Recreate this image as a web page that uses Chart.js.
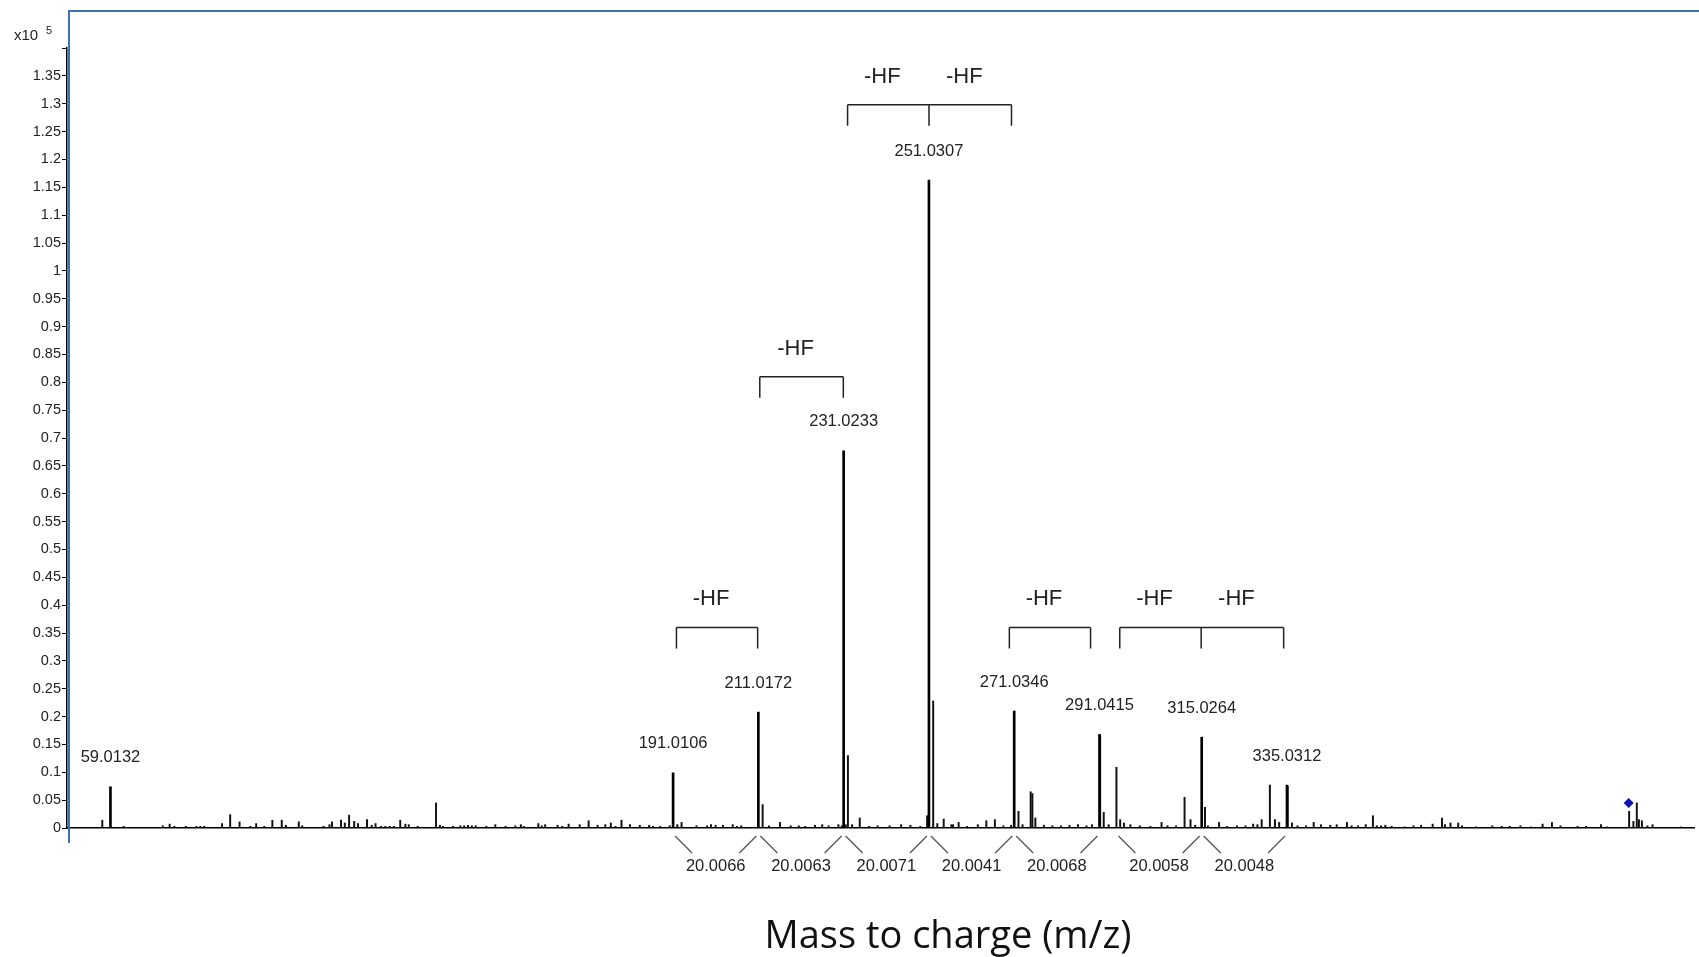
<!DOCTYPE html>
<html>
<head>
<meta charset="utf-8">
<title>Mass spectrum</title>
<script src="https://cdn.jsdelivr.net/npm/chart.js@4.4.1/dist/chart.umd.min.js"></script>
<style>
  html, body { margin: 0; padding: 0; background: #fff; }
  #wrap { width: 1699px; height: 957px; }
</style>
</head>
<body>
<div id="wrap"><canvas id="spectrum" width="1699" height="957"></canvas></div>
<script>
// Labelled peaks (m/z, intensity in units of 1e5 counts)
const peakLabels = ["59.0132", "191.0106", "211.0172", "231.0233", "251.0307", "271.0346", "291.0415", "315.0264", "335.0312"];
const peakMz = [59.0132, 191.0106, 211.0172, 231.0233, 251.0307, 271.0346, 291.0415, 315.0264, 335.0312];
const peakIntensity = [0.074, 0.099, 0.208, 0.677, 1.163, 0.210, 0.168, 0.163, 0.077];

// Unlabelled peaks
const minorMz = [
  57.1, 62.1, 71.3, 72.9, 74.0, 76.7, 79.2, 80.1, 81.0, 85.2, 87.1, 89.3, 91.8, 93.2, 95.1, 97.0, 99.2, 100.2,
  103.2, 104.0, 109.0, 110.4, 111.0, 113.1, 114.0, 115.0, 116.2, 117.1, 119.2, 120.3, 121.2, 122.5, 123.5, 124.5,
  125.5, 127.0, 128.2, 129.0, 131.1, 135.4, 136.3, 137.0, 139.4, 141.1, 142.0, 142.9, 143.8, 144.7, 147.2, 149.3,
  151.7, 154.0, 155.3, 156.0, 159.4, 160.2, 161.0, 163.9, 165.0, 166.5, 169.1, 171.2, 173.3, 175.1, 176.4, 177.5,
  178.9, 180.9, 183.2, 185.4, 186.3, 188.0, 190.2, 192.0, 193.0, 196.5, 199.0, 199.9, 201.0, 202.7, 205.0, 206.0,
  207.0, 212.02, 213.5, 216.1, 218.6, 220.5, 222.0, 224.3, 226.0, 227.5, 229.8, 230.6, 231.5, 232.03, 233.0, 234.8,
  237.0, 239.0, 241.8, 244.5, 246.7, 249.0, 250.6, 252.03, 253.0, 254.5, 256.3, 256.7, 258.0, 260.0, 262.5, 264.5,
  266.5, 268.5, 270.3, 272.04, 273.0, 274.9, 275.3, 276.0, 278.0, 280.0, 282.0, 284.0, 286.0, 288.0, 289.3, 291.2,
  292.04, 293.2, 295.02, 295.9, 296.8, 298.3, 300.5, 303.0, 305.6, 307.0, 309.0, 311.0, 312.4, 313.5, 315.8, 316.5,
  319.1, 321.0, 323.3, 325.3, 327.1, 328.1, 329.1, 331.02, 332.2, 333.2, 335.2, 336.2, 337.5, 339.5, 341.3, 343.0,
  345.2, 346.7, 349.1, 350.2, 351.7, 353.5, 355.2, 356.1, 357.1, 358.1, 359.6, 362.6, 364.7, 366.5, 369.2, 371.4,
  372.1, 373.4, 375.2, 376.1, 379.4, 383.2, 385.4, 387.3, 389.8, 392.3, 395.0, 397.2, 399.2, 403.2, 405.2, 408.7,
  410.1, 415.3, 416.3, 417.1, 417.6, 418.3, 419.6, 420.8, 427.4
];
const minorIntensity = [
  0.014, 0.003, 0.004, 0.007, 0.003, 0.003, 0.003, 0.003, 0.003, 0.008, 0.024, 0.011, 0.003, 0.008, 0.003, 0.014, 0.014, 0.005,
  0.011, 0.004, 0.003, 0.006, 0.011, 0.014, 0.009, 0.023, 0.012, 0.008, 0.015, 0.005, 0.008, 0.003, 0.003, 0.003,
  0.003, 0.014, 0.007, 0.006, 0.003, 0.045, 0.005, 0.003, 0.003, 0.004, 0.004, 0.005, 0.004, 0.004, 0.003, 0.006,
  0.003, 0.004, 0.006, 0.003, 0.008, 0.004, 0.006, 0.005, 0.003, 0.007, 0.006, 0.013, 0.005, 0.006, 0.009, 0.003,
  0.014, 0.006, 0.005, 0.005, 0.003, 0.003, 0.004, 0.006, 0.010, 0.004, 0.004, 0.006, 0.005, 0.005, 0.006, 0.003,
  0.004, 0.042, 0.004, 0.010, 0.004, 0.004, 0.003, 0.005, 0.006, 0.004, 0.006, 0.004, 0.006, 0.130, 0.006, 0.018,
  0.003, 0.004, 0.004, 0.006, 0.005, 0.003, 0.022, 0.228, 0.008, 0.016, 0.006, 0.006, 0.010, 0.003, 0.006, 0.013,
  0.015, 0.004, 0.005, 0.030, 0.006, 0.065, 0.062, 0.018, 0.005, 0.004, 0.004, 0.005, 0.006, 0.004, 0.006, 0.166,
  0.028, 0.006, 0.109, 0.015, 0.009, 0.006, 0.004, 0.003, 0.010, 0.004, 0.004, 0.055, 0.015, 0.005, 0.037, 0.004,
  0.010, 0.003, 0.004, 0.004, 0.007, 0.006, 0.015, 0.077, 0.015, 0.010, 0.075, 0.009, 0.004, 0.004, 0.010, 0.006,
  0.005, 0.006, 0.010, 0.004, 0.004, 0.006, 0.022, 0.004, 0.004, 0.005, 0.003, 0.002, 0.004, 0.005, 0.007, 0.018,
  0.006, 0.009, 0.009, 0.004, 0.002, 0.004, 0.003, 0.003, 0.004, 0.002, 0.007, 0.010, 0.004, 0.003, 0.003, 0.006,
  0.002, 0.030, 0.012, 0.045, 0.015, 0.013, 0.004, 0.006, 0.002
];

// Precursor marker (blue diamond)
const precursorMz = [415.2];
const precursorIntensity = [0.045];

// -HF losses: m/z where the bracket legs stand, and bracket height (x10^5)
const hfSpans = [
  [191.8, 210.85],
  [211.35, 230.95],
  [231.95, 251.05, 270.4],
  [269.9, 288.95],
  [295.8, 314.9, 334.25]
];
const hfLevels = [0.36, 0.81, 1.298, 0.36, 0.36];

// Mass differences written under the axis
const diffLabels = ["20.0066", "20.0063", "20.0071", "20.0041", "20.0068", "20.0058", "20.0048"];
const diffFrom = [191.0106, 211.0172, 231.0233, 251.0307, 271.0346, 295.0206, 315.0264];
const diffTo = [211.0172, 231.0233, 251.0307, 271.0346, 291.0415, 315.0264, 335.0312];

// Axis ranges
const xMin = 48.82, xMax = 430.52;
const yMax = 1.4, yStep = 0.05;

const SANS = "'Liberation Sans', Arial, sans-serif";

function toPoints(xs, ys) {
    return xs.map((m, i) => ({ x: m, y: ys[i] }));
}

// Draw the text and brackets that sit on top of the spectrum
const annotations = {
    id: "annotations",
    afterDraw(chart) {
        const { ctx, chartArea, scales: { x, y } } = chart;
        ctx.save();

        // blue frame of the plot window
        ctx.strokeStyle = "#3f6fb8";
        ctx.lineWidth = 2;
        ctx.beginPath();
        ctx.moveTo(chartArea.left + 2, chartArea.bottom + 15);
        ctx.lineTo(chartArea.left + 2, 11);
        ctx.lineTo(chart.width, 11);
        ctx.stroke();

        // x10^5 exponent
        ctx.fillStyle = "#222";
        ctx.textAlign = "left";
        ctx.textBaseline = "alphabetic";
        ctx.font = "15px " + SANS;
        ctx.fillText("x10", 14, 40);
        ctx.font = "11px " + SANS;
        ctx.fillText("5", 46, 34);

        // peak labels
        ctx.font = "16.5px " + SANS;
        ctx.textAlign = "center";
        ctx.textBaseline = "middle";
        peakLabels.forEach((label, i) => {
            const px = x.getPixelForValue(peakMz[i]);
            const py = y.getPixelForValue(peakIntensity[i]);
            ctx.fillText(label, px, py - 29);
        });

        // -HF brackets
        ctx.strokeStyle = "#222";
        ctx.lineWidth = 1.5;
        ctx.font = "22px " + SANS;
        hfSpans.forEach((span, i) => {
            const ly = y.getPixelForValue(hfLevels[i]);
            const xs = span.map(m => x.getPixelForValue(m));
            ctx.beginPath();
            ctx.moveTo(xs[0], ly);
            ctx.lineTo(xs[xs.length - 1], ly);
            xs.forEach(px => {
                ctx.moveTo(px, ly);
                ctx.lineTo(px, ly + 21);
            });
            ctx.stroke();
            for (let k = 0; k < xs.length - 1; k++) {
                ctx.fillText("-HF", (xs[k] + xs[k + 1]) / 2 - 6, ly - 28);
            }
        });

        // mass differences under the axis
        const base = chartArea.bottom;
        ctx.strokeStyle = "#555";
        ctx.lineWidth = 1.3;
        ctx.font = "16.5px " + SANS;
        diffLabels.forEach((label, i) => {
            const xa = x.getPixelForValue(diffFrom[i]);
            const xb = x.getPixelForValue(diffTo[i]);
            ctx.beginPath();
            ctx.moveTo(xa + 2, base + 8);
            ctx.lineTo(xa + 19, base + 25);
            ctx.moveTo(xb - 2, base + 8);
            ctx.lineTo(xb - 19, base + 25);
            ctx.stroke();
            ctx.fillText(label, (xa + xb) / 2, base + 38);
        });

        // axis title
        ctx.fillStyle = "#111";
        ctx.font = "38px 'Open Sans', 'Noto Sans', sans-serif";
        ctx.textBaseline = "alphabetic";
        ctx.fillText("Mass to charge (m/z)", 948, 948);

        ctx.restore();
    }
};

const ctx = document.getElementById("spectrum").getContext("2d");

new Chart(ctx, {
    type: "bar",
    data: {
        datasets: [
            {
                label: "Precursor",
                type: "line",
                data: toPoints(precursorMz, precursorIntensity),
                showLine: false,
                pointStyle: "rectRot",
                pointRadius: 5,
                backgroundColor: "#1010b8",
                borderColor: "#1010b8",
                borderWidth: 0
            },
            {
                label: "Labelled peaks",
                data: toPoints(peakMz, peakIntensity),
                backgroundColor: "#000",
                barThickness: 2
            },
            {
                label: "Other peaks",
                data: toPoints(minorMz, minorIntensity),
                backgroundColor: "#111",
                barThickness: 1.3
            }
        ]
    },
    options: {
        responsive: false,
        animation: false,
        grouped: false,
        layout: { padding: { top: 48, bottom: 129, left: 0, right: 0 } },
        plugins: {
            legend: { display: false },
            tooltip: { enabled: false }
        },
        scales: {
            x: {
                type: "linear",
                min: xMin,
                max: xMax,
                offset: false,
                grid: { display: false },
                ticks: { display: false },
                border: { display: true, color: "#000", width: 1.5 },
                afterFit(scale) {
                    scale.height = 0;
                    scale.paddingLeft = 0;
                    scale.paddingRight = 0;
                }
            },
            y: {
                min: 0,
                max: yMax,
                grid: {
                    display: true,
                    drawOnChartArea: false,
                    drawTicks: true,
                    tickLength: 5,
                    color: "#000"
                },
                border: { display: true, color: "#000", width: 1.5 },
                ticks: {
                    stepSize: yStep,
                    autoSkip: false,
                    padding: 1,
                    color: "#222",
                    font: { family: SANS, size: 14.5 },
                    callback: v => (v > yMax - 0.001 ? "" : String(parseFloat(v.toFixed(2))))
                },
                afterFit(scale) {
                    scale.width = 67;
                    scale.paddingTop = 0;
                    scale.paddingBottom = 0;
                }
            }
        }
    },
    plugins: [annotations]
});
</script>
</body>
</html>
